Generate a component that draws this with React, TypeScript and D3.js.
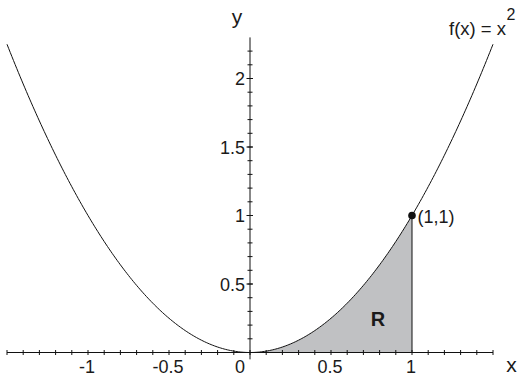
import React from "react";
import * as d3 from "d3";

const W = 517;
const H = 376;

// Function plotted: f(x) = x^2 over the domain shown
const curveDomain = [-1.5, 1.5];
const regionDomain = [0, 1];
const xMajorTicks = [-1, -0.5, 0, 0.5, 1];
const xMajorLabels = ["-1", "-0.5", "0", "0.5", "1"];
const yMajorTicks = [0.5, 1, 1.5, 2];
const yMajorLabels = ["0.5", "1", "1.5", "2"];
const xMinorTicks = d3.range(-15, 16).map((i) => i / 10);
const yMinorTicks = d3.range(1, 23).map((i) => i / 10);
const point = { x: 1, y: 1, label: "(1,1)" };
const regionLabel = "R";
const fnLabel = "f(x) = x";
const fnExponent = "2";

const f = (x: number) => x * x;

export default function App() {
  const x = d3.scaleLinear().domain([0, 1]).range([250, 412]);
  const y = d3.scaleLinear().domain([0, 1]).range([352.5, 215.5]);

  const samples = d3.range(0, 301).map((i) => curveDomain[0] + (i / 300) * (curveDomain[1] - curveDomain[0]));
  const line = d3
    .line<number>()
    .x((d) => x(d))
    .y((d) => y(f(d)));

  const regSamples = d3.range(0, 101).map((i) => regionDomain[0] + (i / 100) * (regionDomain[1] - regionDomain[0]));
  const area = d3
    .area<number>()
    .x((d) => x(d))
    .y0(() => y(0))
    .y1((d) => y(f(d)));

  const font = "'Liberation Sans', Arial, Helvetica, sans-serif";
  const txt = "#1a1a1a";

  return (
    <div style={{ position: "absolute", left: 0, top: 0 }}>
      <svg width={W} height={H} style={{ display: "block", background: "#fff" }} fontFamily={font}>
        {/* shaded region */}
        <path d={area(regSamples) || ""} fill="#c0c1c3" stroke="none" />
        <line x1={x(1)} x2={x(1)} y1={y(0)} y2={y(1)} stroke="#111" strokeWidth={1} />

        {/* x axis */}
        <line x1={x(-1.5)} x2={x(1.5)} y1={y(0)} y2={y(0)} stroke="#111" strokeWidth={1} />
        {xMinorTicks.map((t) => (
          <line key={"xm" + t} x1={x(t)} x2={x(t)} y1={y(0) - 2.5} y2={y(0) + 2.5} stroke="#111" strokeWidth={1} />
        ))}
        {/* y axis */}
        <line x1={x(0)} x2={x(0)} y1={y(-0.05)} y2={y(2.3)} stroke="#111" strokeWidth={1} />
        {yMinorTicks.map((t) => (
          <line key={"ym" + t} x1={x(0) - 2.5} x2={x(0) + 2.5} y1={y(t)} y2={y(t)} stroke="#111" strokeWidth={1} />
        ))}
        {yMajorTicks.map((t) => (
          <line key={"yM" + t} x1={x(0) - 3.5} x2={x(0) + 3} y1={y(t)} y2={y(t)} stroke="#111" strokeWidth={1} />
        ))}

        {/* x tick labels */}
        {xMajorTicks.map((t, i) => (
          <text
            key={"xl" + t}
            x={t === 0 ? x(0) - 10 : x(t) - 1}
            y={373}
            textAnchor="middle"
            fontSize={18}
            fill={txt}
          >
            {xMajorLabels[i]}
          </text>
        ))}
        {/* y tick labels */}
        {yMajorTicks.map((t, i) => (
          <text key={"yl" + t} x={x(0) - 5} y={y(t) + 6.5} textAnchor="end" fontSize={18} fill={txt}>
            {yMajorLabels[i]}
          </text>
        ))}

        {/* axis labels */}
        <text x={237} y={24} textAnchor="middle" fontSize={21} fill={txt}>
          y
        </text>
        <text x={511.5} y={371.5} textAnchor="middle" fontSize={21} fill={txt}>
          x
        </text>

        {/* curve */}
        <path d={line(samples) || ""} fill="none" stroke="#111" strokeWidth={1} />

        {/* point */}
        <circle cx={x(point.x)} cy={y(point.y)} r={3.8} fill="#111" />
        <text x={x(point.x) + 5.5} y={y(point.y) + 7} fontSize={18} fill={txt}>
          {point.label}
        </text>

        {/* region label */}
        <text x={378} y={326} textAnchor="middle" fontSize={20} fontWeight="bold" fill={txt}>
          {regionLabel}
        </text>

        {/* function label */}
        <text x={449} y={35} fontSize={18.5} fill={txt}>
          {fnLabel}
        </text>
        <text x={506.5} y={20} fontSize={16} fill={txt}>
          {fnExponent}
        </text>
      </svg>
    </div>
  );
}
